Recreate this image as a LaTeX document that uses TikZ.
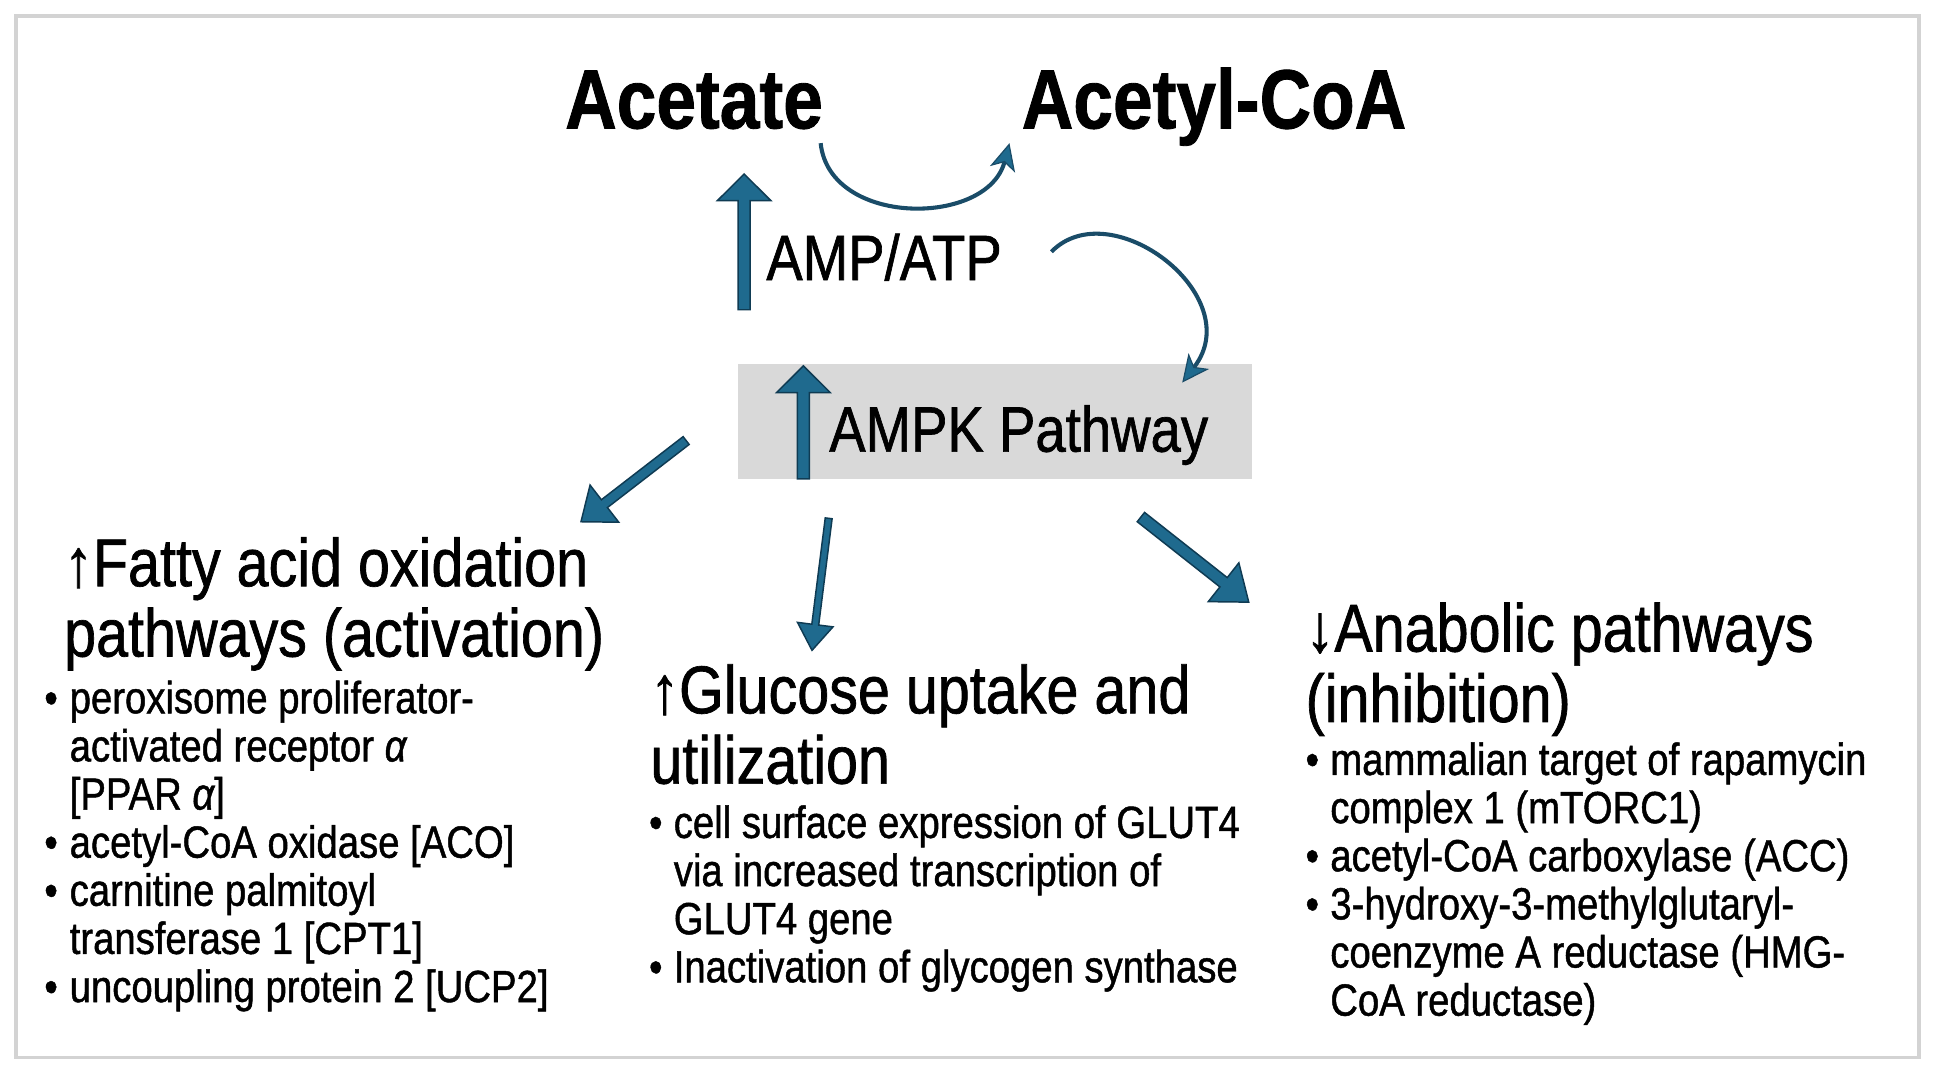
\documentclass[tikz,border=0pt]{standalone}
\usepackage{fontspec}
\setmainfont{Liberation Sans}[FakeStretch=0.85,FakeBold=1.0]
\usetikzlibrary{arrows.meta,calc}
\definecolor{afill}{HTML}{1F6A8E}
\definecolor{aline}{HTML}{0F3B53}
\definecolor{boxgray}{HTML}{D9D9D9}
\definecolor{framegray}{HTML}{D3D3D3}
\definecolor{curvecol}{HTML}{1A4C68}
\newcommand\blockarrow[5]{%
  \filldraw[fill=afill,draw=aline,line width=1.2pt,line join=miter]
   let \p1=(#1), \p2=(#2), \n1={atan2(\y2-\y1,\x2-\x1)}, \n2={veclen(\x2-\x1,\y2-\y1)} in
   {[shift={(\p1)},rotate=\n1]
   (0,#3) -- (\n2-#5,#3) -- (\n2-#5,#4) -- (\n2,0) -- (\n2-#5,-#4) -- (\n2-#5,-#3) -- (0,-#3) -- cycle};
}
\newcommand\bl[1]{\makebox[#1][l]{\textbullet}}
\tikzset{
  txt/.style={inner sep=0pt,outer sep=0pt,anchor=base west},
  bigtxt/.style={txt,font=\bfseries\fontsize{68}{72}\selectfont},
  midtxt/.style={txt,font=\fontsize{51}{55}\selectfont},
  ttltxt/.style={txt,font=\fontsize{54.8}{57}\selectfont},
  bodytxt/.style={txt,font=\fontsize{36.5}{39}\selectfont},
  curvearrow/.style={draw=curvecol,line width=3.3pt,
    -{Stealth[length=22pt,width=21pt,inset=6pt,fill=afill,line width=1pt]}},
}
\begin{document}
\begin{tikzpicture}[x=1pt,y=-1pt]
\useasboundingbox (0,0) rectangle (1568,869);
\fill[white] (0,0) rectangle (1568,869);
\draw[framegray,line width=3pt] (13,13) rectangle (1555,857);

% AMPK box (drawn first so arrows lie on top)
\node[fill=boxgray,minimum width=416pt,minimum height=93pt,inner sep=0pt,anchor=north west] (box) at (598,295) {};

% top texts
\node[bigtxt] (acetate) at (458,104) {Acetate};
\node[bigtxt] (acetyl) at (828,104) {Acetyl-CoA};

% acetate -> acetyl-CoA curve
\coordinate (c1s) at (665,116);
\coordinate (c1e) at (818,116);
\draw[curvearrow] (c1s) .. controls (672,184) and (800,184) .. (c1e);

% AMP/ATP
\coordinate (ampT) at (603,251);
\coordinate (ampH) at (603,141);
\blockarrow{ampT}{ampH}{4.9}{21.7}{21.6}
\node[midtxt,font=\fontsize{52}{55}\selectfont] (amp) at (621,227) {AMP/ATP};

% curve to AMPK
\coordinate (c2s) at (852,204);
\coordinate (c2e) at (958,310);
\draw[curvearrow] (c2s) .. controls (900,155) and (1012,240) .. (c2e);

% AMPK
\coordinate (ampkT) at (651,388);
\coordinate (ampkH) at (651,296.5);
\blockarrow{ampkT}{ampkH}{4.9}{21.7}{21.6}
\node[midtxt,font=\fontsize{52}{55}\selectfont] (ampk) at (672,366) {AMPK Pathway};

% three output arrows
\coordinate (l1) at (556,357);
\coordinate (l2) at (470.5,423);
\blockarrow{l1}{l2}{4}{19}{24}
\coordinate (m1) at (671.5,420);
\coordinate (m2) at (658,527);
\blockarrow{m1}{m2}{2.8}{14.5}{21}
\coordinate (r1) at (924.5,419);
\coordinate (r2) at (1012,488);
\blockarrow{r1}{r2}{4.8}{20}{26}

% left block
\node[ttltxt] (fatT) at (52,475) {\begin{tabular}[t]{@{}l@{}}↑Fatty acid oxidation\\pathways (activation)\end{tabular}};
\node[bodytxt] (fatL) at (36,578) {\begin{tabular}[t]{@{}l@{}l@{}}
\bl{20.5pt} & peroxisome proliferator-\\
 & activated receptor {\itshape α}\\
 & [PPAR {\itshape α}]\\
\bl{20.5pt} & acetyl-CoA oxidase [ACO]\\
\bl{20.5pt} & carnitine palmitoyl\\
 & transferase 1 [CPT1]\\
\bl{20.5pt} & uncoupling protein 2 [UCP2]
\end{tabular}};

% middle block
\node[ttltxt] (gluT) at (527,578) {\begin{tabular}[t]{@{}l@{}}↑Glucose uptake and\\utilization\end{tabular}};
\node[bodytxt] (gluL) at (526,679) {\begin{tabular}[t]{@{}l@{}l@{}}
\bl{20pt} & cell surface expression of GLUT4\\
 & via increased transcription of\\
 & GLUT4 gene\\
\bl{20pt} & Inactivation of glycogen synthase
\end{tabular}};

% right block
\node[ttltxt] (anaT) at (1058,528) {\begin{tabular}[t]{@{}l@{}}↓Anabolic pathways\\(inhibition)\end{tabular}};
\node[bodytxt] (anaL) at (1058,628) {\begin{tabular}[t]{@{}l@{}l@{}}
\bl{20pt} & mammalian target of rapamycin\\
 & complex 1 (mTORC1)\\
\bl{20pt} & acetyl-CoA carboxylase (ACC)\\
\bl{20pt} & 3-hydroxy-3-methylglutaryl-\\
 & coenzyme A reductase (HMG-\\
 & CoA reductase)
\end{tabular}};
\end{tikzpicture}
\end{document}
